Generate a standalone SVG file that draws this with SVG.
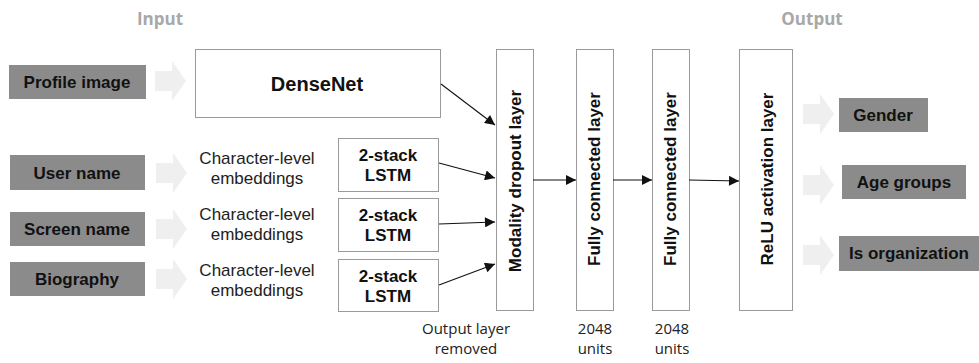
<svg xmlns="http://www.w3.org/2000/svg" width="979" height="363" viewBox="0 0 979 363">
  <style>
    .io { fill: #8b8b8b; }
    .io-t { font-family: "Liberation Sans", Arial, sans-serif; font-weight: bold; font-size: 17px; fill: #111; text-anchor: middle; }
    .box { fill: #fff; stroke: #9a9a9a; stroke-width: 1; }
    .bold { font-family: "Liberation Sans", Arial, sans-serif; font-weight: bold; font-size: 17px; fill: #111; text-anchor: middle; }
    .reg { font-family: "Liberation Sans", Arial, sans-serif; font-size: 17px; fill: #222; text-anchor: middle; }
    .note { font-family: "Open Sans", "Liberation Sans", sans-serif; font-size: 15px; fill: #222; text-anchor: middle; }
    .head { font-family: "Open Sans", "Liberation Sans", sans-serif; font-weight: bold; font-size: 17px; fill: #a8a8a8; text-anchor: middle; }
    .flow { fill: #efefef; }
    .link { stroke: #111; stroke-width: 1.1; fill: none; marker-end: url(#tip); }
  </style>
  <defs>
    <marker id="tip" viewBox="0 0 10 10" refX="10" refY="5" markerWidth="13" markerHeight="10" markerUnits="userSpaceOnUse" orient="auto">
      <path d="M0,0 L10,5 L0,10 Z" fill="#111"/>
    </marker>
    <!-- wide block arrow used between inputs/outputs and the network -->
    <path id="flow-arrow" d="M0,-10 H17 V-20 L31,0 L17,20 V10 H0 Z"/>
  </defs>

  <rect width="979" height="363" fill="#fff"/>

  <text class="head" x="160" y="25">Input</text>
  <text class="head" x="812" y="25">Output</text>

  <!-- input side -->
  <g id="in-profile">
    <rect class="io" x="9" y="65" width="137" height="34"/>
    <text class="io-t" x="77" y="88">Profile image</text>
  </g>
  <g id="in-user">
    <rect class="io" x="10" y="155" width="135" height="35"/>
    <text class="io-t" x="77" y="179">User name</text>
  </g>
  <g id="in-screen">
    <rect class="io" x="10" y="212" width="135" height="34"/>
    <text class="io-t" x="77" y="235">Screen name</text>
  </g>
  <g id="in-bio">
    <rect class="io" x="10" y="262" width="135" height="34"/>
    <text class="io-t" x="77" y="285">Biography</text>
  </g>

  <g id="flow-in" class="flow">
    <use href="#flow-arrow" x="155" y="81"/>
    <use href="#flow-arrow" x="156" y="173"/>
    <use href="#flow-arrow" x="156" y="229"/>
    <use href="#flow-arrow" x="156" y="279"/>
  </g>

  <g id="densenet">
    <rect class="box" x="195.5" y="49.5" width="245" height="68"/>
    <text class="bold" x="317" y="91" style="font-size:20px">DenseNet</text>
  </g>

  <g id="emb-user">
    <text class="reg" x="257" y="164">Character-level</text>
    <text class="reg" x="257" y="184">embeddings</text>
  </g>
  <g id="emb-screen">
    <text class="reg" x="257" y="220">Character-level</text>
    <text class="reg" x="257" y="240">embeddings</text>
  </g>
  <g id="emb-bio">
    <text class="reg" x="257" y="276">Character-level</text>
    <text class="reg" x="257" y="296">embeddings</text>
  </g>

  <g id="lstm-user">
    <rect class="box" x="338.5" y="138.5" width="100" height="53" stroke="#777"/>
    <text class="bold" x="388" y="161">2-stack</text>
    <text class="bold" x="388" y="181">LSTM</text>
  </g>
  <g id="lstm-screen">
    <rect class="box" x="338.5" y="198.5" width="100" height="53"/>
    <text class="bold" x="388" y="221">2-stack</text>
    <text class="bold" x="388" y="241">LSTM</text>
  </g>
  <g id="lstm-bio">
    <rect class="box" x="338.5" y="259.5" width="100" height="52"/>
    <text class="bold" x="388" y="282">2-stack</text>
    <text class="bold" x="388" y="302">LSTM</text>
  </g>

  <!-- stacked layers -->
  <g id="dropout">
    <rect class="box" x="496.5" y="49.5" width="37" height="261"/>
    <text class="bold" transform="translate(521,181) rotate(-90)">Modality dropout layer</text>
  </g>
  <g id="fc1">
    <rect class="box" x="576.5" y="49.5" width="37" height="261"/>
    <text class="bold" transform="translate(600,179) rotate(-90)">Fully connected layer</text>
  </g>
  <g id="fc2">
    <rect class="box" x="652.5" y="49.5" width="37" height="261"/>
    <text class="bold" transform="translate(676,179) rotate(-90)">Fully connected layer</text>
  </g>
  <g id="relu">
    <rect class="box" x="739.5" y="49.5" width="53" height="261"/>
    <text class="bold" transform="translate(773,179) rotate(-90)">ReLU activation layer</text>
  </g>

  <g id="notes">
    <text class="note" x="466" y="334">Output layer</text>
    <text class="note" x="466" y="354">removed</text>
    <text class="note" x="595" y="334">2048</text>
    <text class="note" x="595" y="354">units</text>
    <text class="note" x="672" y="334">2048</text>
    <text class="note" x="672" y="354">units</text>
  </g>

  <!-- output side -->
  <g id="flow-out" class="flow">
    <use href="#flow-arrow" x="803" y="114"/>
    <use href="#flow-arrow" x="803" y="185"/>
    <use href="#flow-arrow" x="803" y="255"/>
  </g>
  <g id="out-gender">
    <rect class="io" x="839" y="98" width="89" height="34"/>
    <text class="io-t" x="883" y="121">Gender</text>
  </g>
  <g id="out-age">
    <rect class="io" x="842" y="165" width="124" height="34"/>
    <text class="io-t" x="904" y="188">Age groups</text>
  </g>
  <g id="out-org">
    <rect class="io" x="839" y="236" width="140" height="35"/>
    <text class="io-t" x="909" y="259">Is organization</text>
  </g>

  <g id="connectors">
    <line class="link" x1="441" y1="84" x2="495" y2="125"/>
    <line class="link" x1="439" y1="163" x2="495" y2="178"/>
    <line class="link" x1="439" y1="224" x2="495" y2="222"/>
    <line class="link" x1="439" y1="285" x2="495" y2="264"/>
    <line class="link" x1="533" y1="180" x2="576" y2="180"/>
    <line class="link" x1="613" y1="180" x2="652" y2="180"/>
    <line class="link" x1="689" y1="180" x2="739" y2="181"/>
  </g>
</svg>
